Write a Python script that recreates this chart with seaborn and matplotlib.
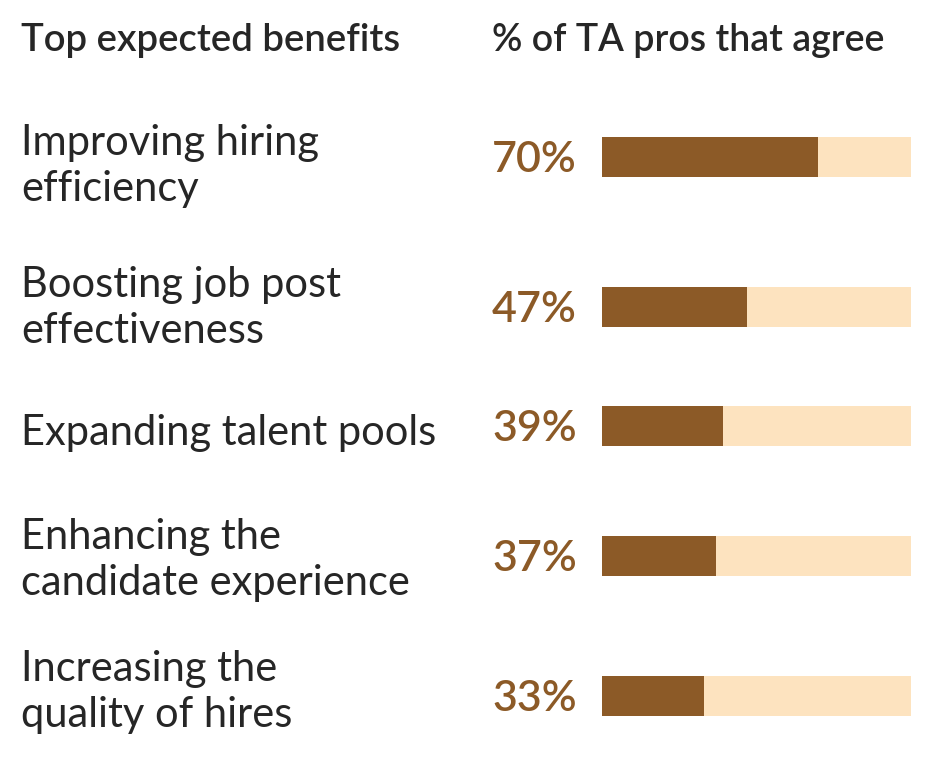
import matplotlib
matplotlib.use("Agg")
import matplotlib.pyplot as plt
import seaborn as sns

# data
benefits = [
    "Improving hiring\nefficiency",
    "Boosting job post\neffectiveness",
    "Expanding talent pools",
    "Enhancing the\ncandidate experience",
    "Increasing the\nquality of hires",
]
pct_agree = [70, 47, 39, 37, 33]
header_left = "Top expected benefits"
header_right = "% of TA pros that agree"

# layout (pixel units, top-down)
W, H = 936, 758
row_y = [157, 307, 426, 556, 696]
label_y = [166, 308, 433, 560, 692]
bar_h = 40
dark = "#8C5A27"
light = "#FDE3BF"
ink = "#262626"

sns.set_theme(style="white")
plt.rcParams["font.family"] = ["Lato", "DejaVu Sans"]

fig = plt.figure(figsize=(W / 100, H / 100), dpi=100)
fig.patch.set_facecolor("white")

ax = fig.add_axes([602 / W, 0, (911 - 602) / W, 1])
ax.barh(row_y, [100] * len(row_y), height=bar_h, color=light, linewidth=0)
ax.barh(row_y, pct_agree, height=bar_h, color=dark, linewidth=0)
ax.set_xlim(0, 100)
ax.set_ylim(H, 0)
ax.axis("off")

def px(x, y):
    return x / W, 1 - y / H

fig.text(*px(21, 40), header_left, fontsize=27.5, fontweight="semibold",
         color=ink, va="center", ha="left")
fig.text(*px(492, 40), header_right, fontsize=27, fontweight="semibold",
         color=ink, va="center", ha="left")

for lab, ly in zip(benefits, label_y):
    fig.text(*px(21, ly), lab, fontsize=30, fontweight="normal", color=ink,
             va="center", ha="left", linespacing=1.25)

for v, ry in zip(pct_agree, row_y):
    fig.text(*px(492, ry + 3), f"{v}%", fontsize=31, fontweight="semibold",
             color=dark, va="center", ha="left")

fig.savefig("out.png", dpi=100, facecolor="white")
